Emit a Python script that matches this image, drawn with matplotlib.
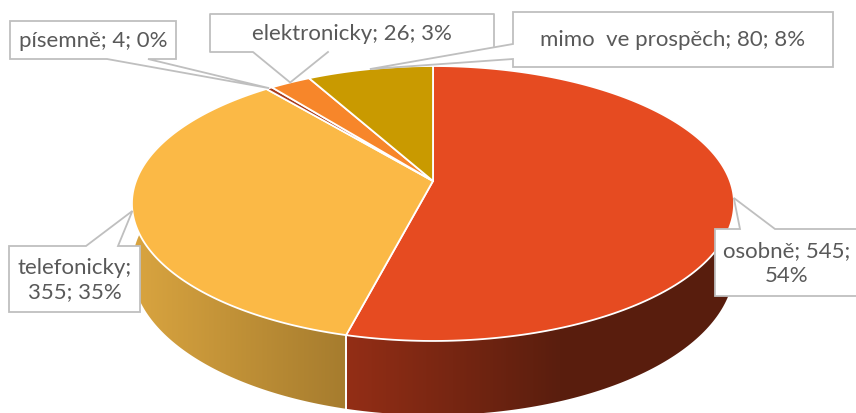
import numpy as np
import matplotlib
matplotlib.use("Agg")
import matplotlib.pyplot as plt
from matplotlib.patches import Polygon

# data
labels = ["osobně", "telefonicky", "písemně", "elektronicky", "mimo  ve prospěch"]
values = [545, 355, 4, 26, 80]
top_colors = ["#E64B21", "#FBB946", "#A83A1C", "#F7862A", "#C99A00"]

# side wall gradient stops (x in pixels, rgb)
side_stops = {
    0: ([345, 560, 740], [(148, 46, 22), (90, 30, 14), (88, 29, 13)]),
    1: ([130, 345], [(218, 165, 64), (166, 124, 46)]),
}

# pie geometry (pixel coords, perspective tilt)
CX, CY = 433, 182
R, S, K, T = 297, 133.8, 0.1636, 62


def proj(theta, z=0.0):
    u = np.sin(theta)
    v = np.cos(theta)
    d = 1 + K * v
    return CX + R * u / d, CY - S * v / d + z * T / d


fig = plt.figure(figsize=(8.56, 4.14), dpi=100)
ax = fig.add_axes([0, 0, 1, 1])
ax.set_xlim(0, 856)
ax.set_ylim(414, 0)
ax.axis("off")

total = sum(values)
bounds = np.concatenate([[0], np.cumsum(values) / total * 2 * np.pi])

# side walls
for i in range(len(values)):
    a, b = bounds[i], bounds[i + 1]
    t = np.linspace(a, b, 200)
    xt, yt = proj(t, 0)
    xb, yb = proj(t[::-1], 1)
    pts = np.column_stack([np.concatenate([xt, xb]), np.concatenate([yt, yb])])
    poly = Polygon(pts, closed=True, facecolor="none", edgecolor="none")
    ax.add_patch(poly)
    if i in side_stops:
        xs, cols = side_stops[i]
        gx = np.linspace(pts[:, 0].min(), pts[:, 0].max(), 300)
        cols = np.array(cols) / 255.0
        img = np.stack([np.interp(gx, xs, cols[:, c]) for c in range(3)], axis=-1)[None, :, :]
        im = ax.imshow(img, extent=[gx[0], gx[-1], pts[:, 1].max(), pts[:, 1].min()],
                       aspect="auto", zorder=1, interpolation="bilinear")
        im.set_clip_path(poly)
    else:
        poly.set_facecolor(top_colors[i])
        poly.set_zorder(1)

# white seam on the front wall between slices
for bnd in bounds[1:-1]:
    if np.cos(bnd) < -0.2:
        x0, y0 = proj(bnd, 0)
        x1, y1 = proj(bnd, 1)
        ax.plot([x0, x1], [y0, y1], color="white", lw=1.4, zorder=2)

# top faces
for i in range(len(values)):
    a, b = bounds[i], bounds[i + 1]
    t = np.linspace(a, b, 200)
    xt, yt = proj(t, 0)
    pts = np.column_stack([np.concatenate([[CX], xt]), np.concatenate([[CY], yt])])
    ax.add_patch(Polygon(pts, closed=True, facecolor=top_colors[i], edgecolor="white",
                         lw=1.3, joinstyle="round", zorder=3))

# callouts
edge_col = "#BFBFBF"
text_col = "#595959"
font = ["Lato", "DejaVu Sans"]
fs = 16

callouts = [
    dict(box=(715, 230, 862, 297), side="top", base=(740, 775),
         text="osobně; 545;\n54%", tx=787),
    dict(box=(9, 247, 140, 313), side="top", base=(86, 118),
         text="telefonicky;\n355; 35%", tx=75),
    dict(box=(10, 22, 176, 60), side="bottom", base=(107, 148),
         text="písemně; 4; 0%", tx=93),
    dict(box=(210, 15, 494, 53), side="bottom", base=(253, 328),
         text="elektronicky; 26; 3%", tx=352, cut=47),
    dict(box=(513, 13, 833, 68), side="left", base=(45, 60),
         text="mimo  ve prospěch; 80; 8%", tx=673),
]

for i, c in enumerate(callouts):
    x0, y0, x1, y1 = c["box"]
    mid = (bounds[i] + bounds[i + 1]) / 2
    tipx, tipy = proj(mid, 0)
    p, q = c["base"]
    if c["side"] == "top":
        pts = [(x0, y0), (p, y0), (tipx, tipy), (q, y0), (x1, y0), (x1, y1), (x0, y1)]
    elif c["side"] == "bottom":
        pts = [(x0, y0), (x1, y0), (x1, y1), (q, y1), (tipx, tipy), (p, y1), (x0, y1)]
    else:
        pts = [(x0, y0), (x1, y0), (x1, y1), (x0, y1), (x0, q), (tipx, tipy), (x0, p)]
    if "cut" in c:
        # outline is hidden behind the neighbouring callout on the lower right
        ax.add_patch(Polygon(pts, closed=True, facecolor="white", edgecolor="none",
                             zorder=5 + i))
        line = [(x1, c["cut"]), (x1, y0), (x0, y0), (x0, y1), (p, y1), (tipx, tipy), (q, y1)]
        ax.plot(*zip(*line), color=edge_col, lw=1.3, zorder=5 + i)
    else:
        ax.add_patch(Polygon(pts, closed=True, facecolor="white", edgecolor=edge_col,
                             lw=1.3, zorder=5 + i))
    ax.text(c["tx"], (y0 + y1) / 2, c["text"], ha="center", va="center",
            color=text_col, fontsize=fs, family=font, linespacing=1.3, zorder=5 + i)

fig.savefig("out.png", dpi=100)
